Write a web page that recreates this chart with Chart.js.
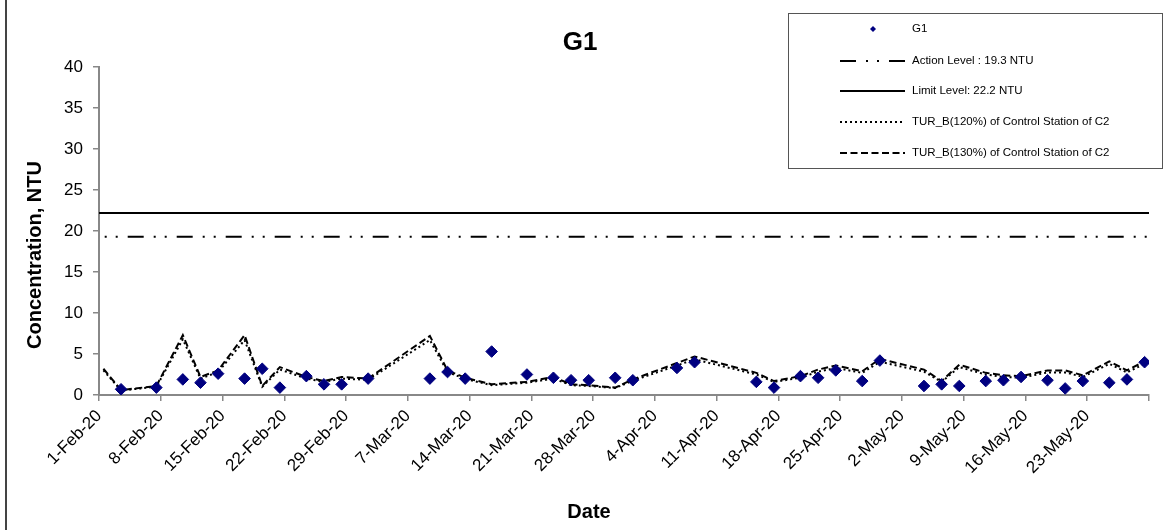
<!DOCTYPE html>
<html>
<head>
<meta charset="utf-8">
<script src="https://cdn.jsdelivr.net/npm/chart.js@4"></script>
<style>
  html, body { margin: 0; padding: 0; background: #fff; }
  canvas { display: block; }
</style>
</head>
<body>
<canvas id="chart" width="1172" height="530"></canvas>
<script>
// --- data ---
const axisStart = '2020-02-01';
const axisDays = 119;
const tickLabels = ['1-Feb-20', '8-Feb-20', '15-Feb-20', '22-Feb-20', '29-Feb-20', '7-Mar-20', '14-Mar-20',
    '21-Mar-20', '28-Mar-20', '4-Apr-20', '11-Apr-20', '18-Apr-20', '25-Apr-20', '2-May-20', '9-May-20',
    '16-May-20', '23-May-20'];

const g1Dates = ['2020-02-03', '2020-02-07', '2020-02-10', '2020-02-12', '2020-02-14', '2020-02-17', '2020-02-19',
    '2020-02-21', '2020-02-24', '2020-02-26', '2020-02-28', '2020-03-02', '2020-03-09', '2020-03-11', '2020-03-13',
    '2020-03-16', '2020-03-20', '2020-03-23', '2020-03-25', '2020-03-27', '2020-03-30', '2020-04-01', '2020-04-06',
    '2020-04-08', '2020-04-15', '2020-04-17', '2020-04-20', '2020-04-22', '2020-04-24', '2020-04-27', '2020-04-29',
    '2020-05-04', '2020-05-06', '2020-05-08', '2020-05-11', '2020-05-13', '2020-05-15', '2020-05-18', '2020-05-20',
    '2020-05-22', '2020-05-25', '2020-05-27', '2020-05-29'];
const g1Values = [0.7, 0.9, 1.9, 1.5, 2.6, 2.0, 3.2, 0.9, 2.3, 1.3, 1.3, 2.0, 2.0, 2.8, 2.0, 5.3, 2.5, 2.1, 1.8,
    1.8, 2.1, 1.8, 3.3, 4.0, 1.6, 0.9, 2.3, 2.1, 3.0, 1.7, 4.2, 1.1, 1.3, 1.1, 1.7, 1.8, 2.2, 1.8, 0.8, 1.7, 1.5,
    1.9, 4.0];

const turDates = ['2020-02-01'].concat(g1Dates);
const tur120 = [3.0, 0.55, 1.0, 6.8, 2.0, 2.8, 6.7, 1.0, 3.1, 2.0, 1.6, 2.0, 1.85, 6.7, 2.8, 1.95, 1.2, 1.5, 2.0,
    1.2, 1.1, 0.85, 1.75, 3.6, 4.35, 2.5, 1.6, 2.1, 2.85, 3.3, 2.7, 4.05, 2.85, 1.6, 3.4, 2.5, 2.2, 2.1, 2.75, 2.75,
    2.2, 3.8, 2.75, 3.8];
const tur130 = [3.2, 0.6, 1.1, 7.3, 2.2, 3.0, 7.3, 1.1, 3.4, 2.2, 1.7, 2.2, 2.0, 7.2, 3.0, 2.1, 1.3, 1.6, 2.2,
    1.3, 1.2, 0.9, 1.9, 3.9, 4.7, 2.7, 1.7, 2.3, 3.1, 3.6, 2.9, 4.4, 3.1, 1.7, 3.7, 2.7, 2.4, 2.3, 3.0, 3.0, 2.4,
    4.1, 3.0, 4.1];

const actionLevel = 19.3;
const limitLevel = 22.2;

// day index since axis start, placed in the middle of the day slot
const dayOf = s => (Date.parse(s) - Date.parse(axisStart)) / 864e5 + 0.5;
const toPoints = (dates, values) => dates.map((d, i) => ({ x: dayOf(d), y: values[i] }));

const FONT = 'Arial, "Liberation Sans", sans-serif';
const actionDash = [16, 10, 2, 9, 2, 10];

const decorations = {
    id: 'decorations',
    afterDraw(chart) {
        const ctx = chart.ctx;
        ctx.save();

        // frame line on the left
        ctx.strokeStyle = '#444';
        ctx.lineWidth = 2;
        ctx.beginPath();
        ctx.moveTo(6, 0);
        ctx.lineTo(6, 530);
        ctx.stroke();

        // titles
        ctx.fillStyle = '#000';
        ctx.textAlign = 'center';
        ctx.textBaseline = 'middle';
        ctx.font = `bold 26px ${FONT}`;
        ctx.fillText('G1', 580, 43);
        ctx.font = `bold 20px ${FONT}`;
        ctx.fillText('Date', 589, 512);
        ctx.save();
        ctx.translate(35, 255);
        ctx.rotate(-Math.PI / 2);
        ctx.fillText('Concentration, NTU', 0, 0);
        ctx.restore();

        // boxed legend
        ctx.fillStyle = '#fff';
        ctx.fillRect(788, 13, 375, 155);
        ctx.strokeStyle = '#555';
        ctx.lineWidth = 1;
        ctx.strokeRect(788.5, 13.5, 374, 155);

        const rows = [29, 61, 91, 122, 153];
        ctx.font = `11.5px ${FONT}`;
        ctx.textAlign = 'left';
        chart.data.datasets.forEach((ds, i) => {
            const y = rows[i];
            if (ds.showLine === false) {
                ctx.fillStyle = ds.backgroundColor;
                ctx.beginPath();
                ctx.moveTo(873, y - 3);
                ctx.lineTo(876, y);
                ctx.lineTo(873, y + 3);
                ctx.lineTo(870, y);
                ctx.closePath();
                ctx.fill();
            } else {
                ctx.strokeStyle = ds.borderColor;
                ctx.lineWidth = ds.borderWidth;
                ctx.setLineDash(ds.borderDash || []);
                ctx.lineDashOffset = 0;
                ctx.beginPath();
                ctx.moveTo(840, y);
                ctx.lineTo(905, y);
                ctx.stroke();
                ctx.setLineDash([]);
            }
            ctx.fillStyle = '#000';
            ctx.fillText(ds.label, 912, y);
        });
        ctx.restore();
    }
};

new Chart(document.getElementById('chart'), {
    type: 'line',
    data: {
        datasets: [
            {
                label: 'G1',
                data: toPoints(g1Dates, g1Values),
                showLine: false,
                pointStyle: 'rectRot',
                pointRadius: 5.8,
                pointBorderWidth: 1,
                backgroundColor: '#000080',
                borderColor: '#000080'
            },
            {
                label: 'Action Level : 19.3 NTU',
                data: [{ x: 0, y: actionLevel }, { x: axisDays, y: actionLevel }],
                borderColor: '#000',
                borderWidth: 2,
                borderDash: actionDash,
                borderDashOffset: 20.3,
                pointRadius: 0
            },
            {
                label: 'Limit Level: 22.2 NTU',
                data: [{ x: 0, y: limitLevel }, { x: axisDays, y: limitLevel }],
                borderColor: '#000',
                borderWidth: 2,
                pointRadius: 0
            },
            {
                label: 'TUR_B(120%) of Control Station of C2',
                data: toPoints(turDates, tur120),
                borderColor: '#000',
                borderWidth: 2,
                borderDash: [2, 3],
                pointRadius: 0,
                tension: 0
            },
            {
                label: 'TUR_B(130%) of Control Station of C2',
                data: toPoints(turDates, tur130),
                borderColor: '#000',
                borderWidth: 2,
                borderDash: [7, 3.5],
                pointRadius: 0,
                tension: 0
            }
        ]
    },
    options: {
        responsive: false,
        animation: false,
        devicePixelRatio: 1,
        layout: { padding: { top: 67, right: 23, left: 0, bottom: 0 } },
        plugins: {
            legend: { display: false },
            title: { display: false },
            tooltip: { enabled: false }
        },
        scales: {
            x: {
                type: 'linear',
                min: 0,
                max: axisDays,
                afterFit: s => { s.height = 135; },
                border: { display: true, color: '#888', width: 2 },
                grid: { drawOnChartArea: false, drawTicks: true, tickLength: 6, color: '#888', lineWidth: 1.5 },
                ticks: {
                    stepSize: 7,
                    autoSkip: false,
                    minRotation: 45,
                    maxRotation: 45,
                    padding: 5,
                    color: '#000',
                    font: { family: FONT, size: 17 },
                    callback: (v, i) => tickLabels[i] || ''
                }
            },
            y: {
                min: 0,
                max: 40,
                afterFit: s => { s.width = 99; },
                border: { display: true, color: '#888', width: 2 },
                grid: { drawOnChartArea: false, drawTicks: true, tickLength: 6, color: '#888', lineWidth: 1.5 },
                ticks: {
                    stepSize: 5,
                    padding: 10,
                    color: '#000',
                    font: { family: FONT, size: 17 }
                }
            }
        }
    },
    plugins: [decorations]
});
</script>
</body>
</html>
